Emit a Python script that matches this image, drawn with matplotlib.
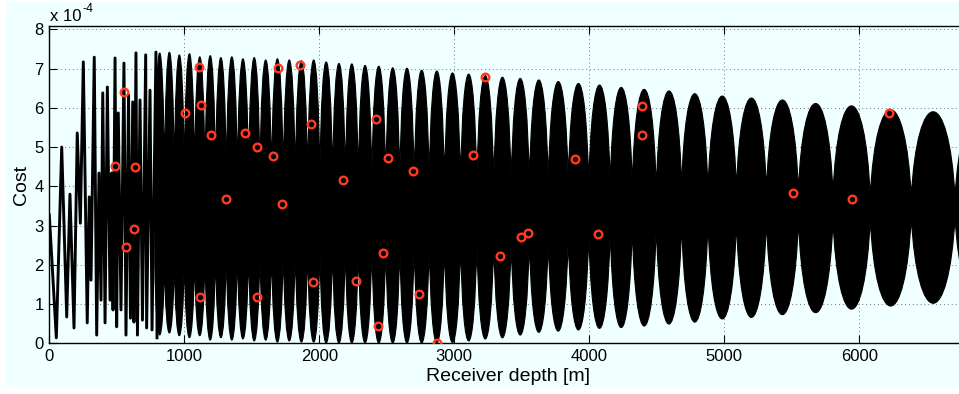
import numpy as np
import matplotlib
matplotlib.use("Agg")
import matplotlib.pyplot as plt
from matplotlib.path import Path
from matplotlib.patches import PathPatch, Rectangle

plt.rcParams['font.family'] = ['Liberation Sans', 'DejaVu Sans']

# cost values are in units of 1e-4
# left part: the curve is still readable as a single zig-zag line
line_depth = [0, 52, 92, 129, 153, 183, 207, 230, 252, 281, 296, 309, 333, 351,
              368, 383, 396, 413, 430, 450, 462, 472, 487, 499, 511, 531, 553,
              568, 587, 601, 618, 627, 642, 653, 672, 690, 714, 721, 746, 761,
              790, 798]
line_cost = [3.27, 0.14, 5.00, 0.67, 3.80, 0.39, 5.36, 3.06, 7.17, 0.52, 3.73,
             1.61, 7.29, 0.21, 4.34, 1.10, 6.38, 0.52, 6.53, 1.10, 4.34, 0.85,
             7.27, 0.42, 5.87, 0.85, 7.14, 0.21, 6.33, 0.64, 6.15, 0.54, 7.40,
             0.21, 6.20, 0.59, 7.35, 0.39, 6.45, 0.34, 7.42, 0.14]

# right part: dense oscillation, read as beat lobes between nodes
node_depth = [782, 853, 926, 1000, 1076, 1153, 1231, 1311, 1393, 1476, 1560,
              1646, 1733, 1822, 1913, 2004, 2098, 2193, 2289, 2389, 2492, 2596,
              2703, 2814, 2927, 3046, 3167, 3292, 3421, 3556, 3696, 3844, 3996,
              4155, 4318, 4496, 4684, 4879, 5090, 5312, 5549, 5805, 6081, 6385,
              6709, 7042]
node_top = [4.21, 4.26, 4.26, 4.29, 4.29,
            4.29, 4.26, 4.24, 4.24, 4.21, 4.21, 4.19, 4.19, 4.16, 4.16, 4.14, 4.14,
            4.14, 4.11, 4.11, 4.08, 4.08, 4.06, 4.06, 4.03, 4.03, 4.03, 4.01, 4.01,
            4.01, 4.03, 4.08, 3.99, 4.03, 4.01, 3.91, 3.98, 3.91, 3.93, 3.91, 3.88,
            3.82, 3.73, 3.72, 3.72, 3.72]
node_bottom = [2.07, 2.12, 2.17, 2.22, 2.25,
               2.33, 2.38, 2.38, 2.40, 2.43, 2.43, 2.45, 2.48, 2.48, 2.50, 2.50, 2.53,
               2.56, 2.56, 2.58, 2.58, 2.61, 2.61, 2.63, 2.63, 2.66, 2.66, 2.68, 2.68,
               2.71, 2.71, 2.78, 2.88, 2.93, 2.97, 3.01, 3.06, 3.10, 3.09, 3.12, 3.14,
               3.14, 3.18, 3.23, 3.23, 3.24]
lobe_max = [7.40, 7.42, 7.35, 7.38, 7.30, 7.33, 7.28, 7.30, 7.25, 7.28, 7.22,
            7.25, 7.22, 7.20, 7.22, 7.17,
            7.13, 7.12, 7.08, 7.06, 7.02, 7.01, 6.96, 6.94, 6.89, 6.86, 6.82, 6.78,
            6.75, 6.71, 6.67, 6.62, 6.58, 6.52, 6.47, 6.43, 6.36, 6.30, 6.25, 6.20,
            6.11, 6.05, 5.95, 5.90, 5.87]
lobe_min = [0.21, 0.26, 0.19, 0.14, 0.19, 0.08, 0.14, 0.08, 0.11, 0.06, 0.08,
            0.03, 0.06, 0.03, 0.03, 0.01,
            0.01, 0.01, 0.01, 0.01, 0.01, 0.01, 0.01, 0.01, 0.02, 0.06, 0.11, 0.14,
            0.21, 0.28, 0.31, 0.34, 0.38, 0.40, 0.44, 0.49, 0.54, 0.62, 0.66, 0.73,
            0.78, 0.87, 0.95, 1.02, 1.08]

# sampled points (red circles)
pick_depth = [556, 487, 635, 1111, 1005, 1125, 1201, 1453, 1537, 1659, 1696,
              1857, 1936, 1309, 1722, 568, 630, 1119, 1536, 1951, 2177, 2419,
              2509, 2693, 3136, 3227, 3892, 4394, 4394, 6222, 5507, 5948, 2272,
              2474, 2433, 2737, 2870, 3342, 3492, 3548, 4068]
pick_cost = [6.41, 4.52, 4.49, 7.05, 5.88, 6.07, 5.30, 5.36, 5.01, 4.77, 7.01,
             7.08, 5.60, 3.68, 3.54, 2.46, 2.90, 1.18, 1.17, 1.56, 4.15, 5.72,
             4.72, 4.38, 4.81, 6.78, 4.70, 6.05, 5.31, 5.88, 3.84, 3.68, 1.60,
             2.31, 0.44, 1.26, 0.01, 2.22, 2.70, 2.80, 2.78]

fig = plt.figure(figsize=(9.59, 3.94), dpi=100)
fig.patch.set_facecolor('white')
fig.add_artist(Rectangle((6 / 959, 7 / 394), 953 / 959, 385 / 394,
                         transform=fig.transFigure, facecolor='#f0ffff',
                         edgecolor='none', zorder=-10))

ax = fig.add_axes([49.3 / 959, 50.7 / 394, 918 / 959, 317.3 / 394])
ax.set_facecolor('#f0ffff')

# lobes of the dense part (cubic arches, control points kept close to the nodes)
verts, codes = [], []
k = 0.14
for i in range(len(lobe_max)):
    x0, x1 = node_depth[i], node_depth[i + 1]
    w = x1 - x0
    u0, u1 = node_top[i], node_top[i + 1]
    l0, l1 = node_bottom[i], node_bottom[i + 1]
    pk, tr = lobe_max[i], lobe_min[i]
    verts += [(x0, l0), (x0, u0),
              (x0 + k * w, u0 + (pk - u0) * 4 / 3),
              (x1 - k * w, u1 + (pk - u1) * 4 / 3),
              (x1, u1), (x1, l1),
              (x1 - k * w, l1 + (tr - l1) * 4 / 3),
              (x0 + k * w, l0 + (tr - l0) * 4 / 3),
              (x0, l0), (x0, l0)]
    codes += [Path.MOVETO, Path.LINETO, Path.CURVE4, Path.CURVE4, Path.CURVE4,
              Path.LINETO, Path.CURVE4, Path.CURVE4, Path.CURVE4, Path.CLOSEPOLY]
ax.add_patch(PathPatch(Path(verts, codes), facecolor='black', edgecolor='black',
                       lw=0.8, zorder=2))

ax.plot(line_depth, line_cost, color='black', lw=2.1, zorder=2)
ax.plot(pick_depth, pick_cost, 'o', ms=5.5, mfc='none', mec='#ff3b1f', mew=1.7,
        zorder=3)

ax.set_xlim(0, 6800)
ax.set_ylim(0, 8.085)
ax.set_xticks(np.arange(0, 6001, 1000))
ax.set_yticks(np.arange(0, 9, 1))
ax.tick_params(direction='in', top=True, right=True, length=6, width=0.8,
               labelsize=12, pad=4, colors='black')
ax.grid(True, ls=(0, (1, 3)), color='0.45', lw=0.7)
ax.set_axisbelow(True)
for s in ax.spines.values():
    s.set_linewidth(1.0)

ax.set_xlabel('Receiver depth [m]', fontsize=14, labelpad=3)
ax.set_ylabel('Cost', fontsize=14, labelpad=3)
fig.text(50 / 959, (394 - 21) / 394, 'x 10', fontsize=12, va='baseline')
fig.text(82.5 / 959, (394 - 12) / 394, '-4', fontsize=9, va='baseline')

fig.savefig('out.png', dpi=100, facecolor=fig.get_facecolor())
